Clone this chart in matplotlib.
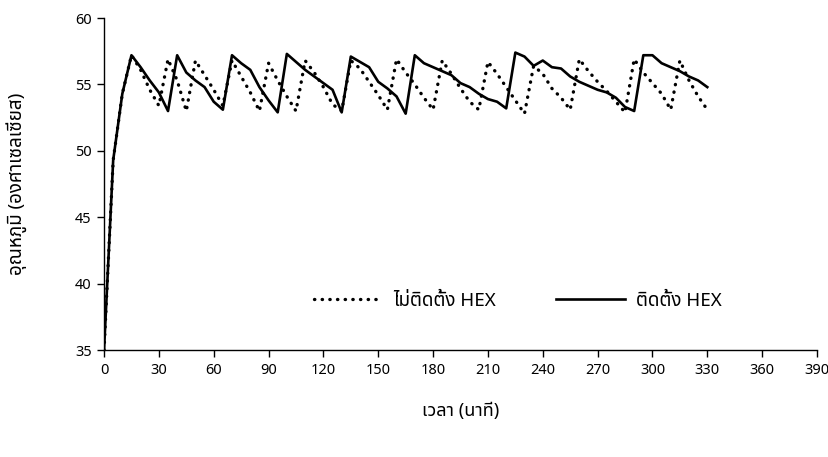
import matplotlib
matplotlib.use("Agg")
import matplotlib.pyplot as plt
from matplotlib import font_manager, ft2font

# time in minutes (sampled every 5 min)
minutes = [0, 5, 10, 15, 20, 25, 30, 35, 40, 45, 50, 55, 60, 65, 70, 75, 80, 85, 90, 95,
           100, 105, 110, 115, 120, 125, 130, 135, 140, 145, 150, 155, 160, 165, 170, 175,
           180, 185, 190, 195, 200, 205, 210, 215, 220, 225, 230, 235, 240, 245, 250, 255,
           260, 265, 270, 275, 280, 285, 290, 295, 300, 305, 310, 315, 320, 325, 330]

# without heat exchanger (dotted)
temp_no_hex = [35.0, 49.3, 54.3, 57.2, 56.1, 54.6, 53.4, 56.9, 55.3, 53.0,
               56.8, 55.7, 54.6, 53.4, 56.8, 55.6, 54.4, 53.0, 56.6, 55.3,
               54.1, 53.0, 56.8, 55.9, 54.8, 53.5, 53.0, 56.8, 56.2, 55.2,
               54.2, 53.1, 56.9, 55.9, 55.0, 54.0, 53.1, 56.8, 55.8, 54.7,
               53.7, 53.1, 56.7, 55.8, 54.8, 53.8, 52.8, 56.4, 55.8, 54.7,
               54.0, 53.1, 56.9, 56.0, 55.2, 54.5, 53.7, 52.9, 56.9, 55.9,
               55.1, 54.3, 53.1, 56.8, 55.3, 54.1, 53.1]

# with heat exchanger (solid)
temp_hex = [35.0, 49.3, 54.3, 57.2, 56.3, 55.3, 54.4, 53.0, 57.2, 55.9,
            55.3, 54.8, 53.7, 53.1, 57.2, 56.6, 56.1, 54.8, 53.8, 52.9,
            57.3, 56.7, 56.1, 55.6, 55.1, 54.6, 52.9, 57.1, 56.7, 56.3,
            55.2, 54.7, 54.1, 52.8, 57.2, 56.6, 56.3, 56.0, 55.7, 55.1,
            54.8, 54.3, 53.9, 53.7, 53.2, 57.4, 57.1, 56.4, 56.8, 56.3,
            56.2, 55.6, 55.2, 54.9, 54.6, 54.4, 54.0, 53.3, 53.0, 57.2,
            57.2, 56.6, 56.3, 56.0, 55.6, 55.3, 54.8]

x_ticks = [0, 30, 60, 90, 120, 150, 180, 210, 240, 270, 300, 330, 360, 390]
y_ticks = [35, 40, 45, 50, 55, 60]


def find_thai_font():
    found = []
    for f in font_manager.fontManager.ttflist:
        try:
            cmap = ft2font.FT2Font(f.fname).get_charmap()
        except Exception:
            continue
        if 0x0E2D in cmap and 0x0E34 in cmap:
            found.append(f.name)
    for pref in ["Noto Sans Thai", "Noto Sans Thai UI", "Loma", "Garuda", "Sarabun", "Tlwg Typo"]:
        if pref in found:
            return pref
    return found[0] if found else None


thai = find_thai_font()
families = [thai, "DejaVu Sans"] if thai else ["DejaVu Sans"]
plt.rcParams["font.family"] = families
plt.rcParams["font.size"] = 11

fig = plt.figure(figsize=(8.29, 4.57), dpi=100)
ax = fig.add_axes([0.1255, 0.234, 0.860, 0.7265])

ax.plot(minutes, temp_no_hex, color="black", linewidth=2.4,
        linestyle=(0, (0.1, 2.2)), dash_capstyle="round", label="ไม่ติดตั้ง HEX")
ax.plot(minutes, temp_hex, color="black", linewidth=1.9, label="ติดตั้ง HEX")

ax.set_xlim(0, 390)
ax.set_ylim(35, 60)
ax.set_xticks(x_ticks)
ax.set_yticks(y_ticks)
ax.spines["top"].set_visible(False)
ax.spines["right"].set_visible(False)
ax.spines["left"].set_linewidth(1)
ax.spines["bottom"].set_linewidth(1)
ax.tick_params(axis="both", direction="out", length=5, width=1, labelsize=10.5)
ax.tick_params(axis="y", pad=4)
ax.tick_params(axis="x", pad=4)

ax.set_xlabel("เวลา (นาที)", fontsize=13)
ax.set_ylabel("อุณหภูมิ (องศาเซลเซียส)", fontsize=13.5)
ax.xaxis.set_label_coords(0.5, -0.157)
ax.yaxis.set_label_coords(-0.108, 0.5)

ax.legend(loc="center", bbox_to_anchor=(0.58, 0.148), ncol=2, frameon=False,
          handlelength=3.7, columnspacing=3.2, handletextpad=0.55, fontsize=13.5)

fig.savefig("out.png", dpi=100)
